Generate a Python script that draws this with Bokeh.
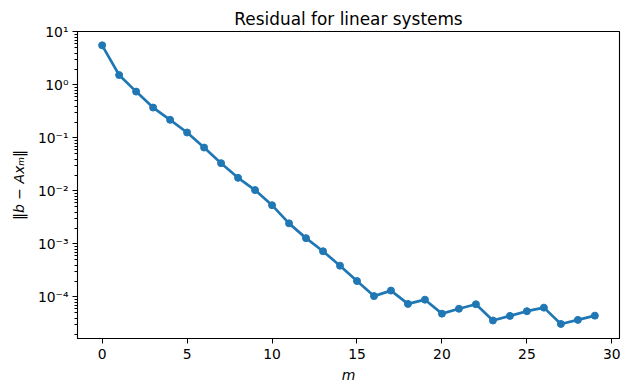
from bokeh.plotting import figure
from bokeh.models import Range1d, FixedTicker, CustomJSTickFormatter, Title
from bokeh.embed import file_html
from bokeh.resources import INLINE

# ---- data ----
iterations = list(range(30))
residual = [5.6, 1.54, 0.75, 0.375, 0.22, 0.127, 0.066, 0.0335, 0.0177, 0.0104,
            0.0054, 0.00245, 0.00129, 0.00073, 0.00039, 0.0002, 0.000104, 0.000132,
            0.000074, 0.000089, 0.0000485, 0.00006, 0.000073, 0.000036, 0.000044,
            0.000054, 0.000063, 0.000031, 0.000037, 0.0000445]
x_ticks = [0, 5, 10, 15, 20, 25, 30]
y_major = [1e-4, 1e-3, 1e-2, 1e-1, 1e0, 1e1]
y_minor = [k * 10.0 ** e for e in range(-5, 1) for k in range(2, 10)]

title_text = "Residual for linear systems"
x_label = "m"
y_label = "\u2016b \u2212 Ax\u2098\u2016"

BLUE = "#1f77b4"
FONT = "DejaVu Sans"

p = figure(width=630, height=391, y_axis_type="log",
           x_range=Range1d(-1.45, 30.45),
           y_range=Range1d(10 ** -4.783, 10 ** 1.009),
           output_backend="svg", toolbar_location=None,
           min_border_left=77, min_border_right=11, min_border_top=31,
           min_border_bottom=53)

p.title = Title(text=title_text, align="center", text_font=FONT,
                text_font_size="16.9px", text_font_style="normal",
                text_color="black", standoff=5)

p.line(iterations, residual, line_color=BLUE, line_width=2.7)
p.scatter(iterations, residual, size=7, fill_color=BLUE, line_color=BLUE)

p.grid.visible = False
p.outline_line_color = "black"
p.outline_line_width = 1.1
p.outline_line_alpha = 1

# x axis
xa = p.xaxis[0]
xa.ticker = FixedTicker(ticks=x_ticks, minor_ticks=[])
xa.axis_label = x_label
xa.axis_label_text_font_style = "italic"
xa.axis_label_text_font = FONT
xa.axis_label_text_font_size = "14px"
xa.axis_label_text_color = "black"
xa.axis_label_standoff = 5
xa.major_label_text_font = FONT
xa.major_label_text_font_size = "13.9px"
xa.major_label_text_color = "black"
xa.major_label_standoff = 5
xa.major_tick_out = 5
xa.major_tick_in = 0
xa.minor_tick_out = 0
xa.minor_tick_in = 0
xa.axis_line_color = "black"
xa.major_tick_line_color = "black"

# y axis
ya = p.yaxis[0]
ya.ticker = FixedTicker(ticks=y_major, minor_ticks=y_minor)
ya.formatter = CustomJSTickFormatter(code="""
const sup = {"-":"\u207b","0":"\u2070","1":"\u00b9","2":"\u00b2","3":"\u00b3",
             "4":"\u2074","5":"\u2075","6":"\u2076","7":"\u2077","8":"\u2078","9":"\u2079"};
const e = Math.round(Math.log10(tick));
return "10" + String(e).split("").map(c => sup[c]).join("");
""")
ya.axis_label = y_label
ya.axis_label_text_font_style = "italic"
ya.axis_label_text_font = FONT
ya.axis_label_text_font_size = "14px"
ya.axis_label_text_color = "black"
ya.axis_label_standoff = 8
ya.major_label_text_font = FONT
ya.major_label_text_font_size = "13.9px"
ya.major_label_text_color = "black"
ya.major_label_standoff = 4
ya.major_tick_out = 5
ya.major_tick_in = 0
ya.minor_tick_out = 3
ya.minor_tick_in = 0
ya.axis_line_color = "black"
ya.major_tick_line_color = "black"
ya.minor_tick_line_color = "black"

open("out.html", "w").write(file_html(p, INLINE))
